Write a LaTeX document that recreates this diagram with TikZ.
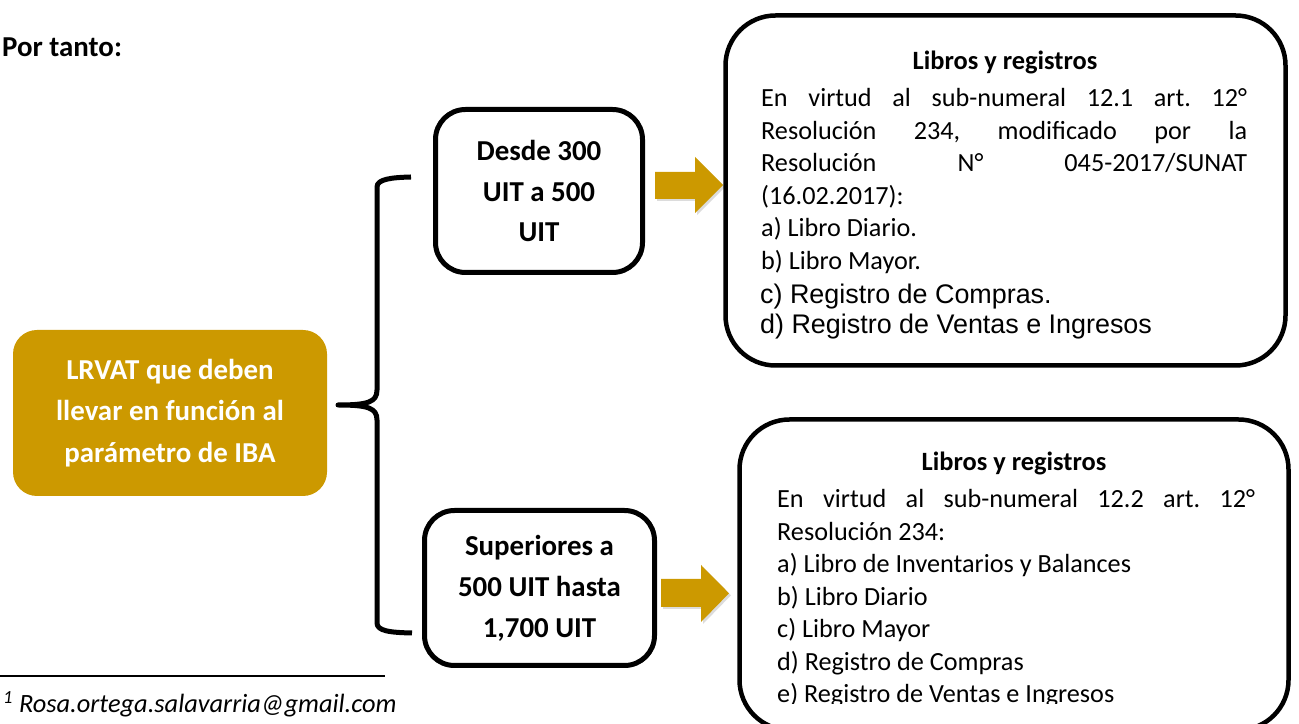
\documentclass[tikz,border=0pt]{standalone}
\usepackage{fontspec}
\setmainfont{Carlito}
\newfontfamily\arialfont{Liberation Sans}
\definecolor{ibagold}{RGB}{204,153,0}
\frenchspacing
\begin{document}
\begin{tikzpicture}[line join=round,
  rangebox/.style={draw, line width=5bp, rounded corners=30bp, align=center, inner sep=0pt,
    font=\bfseries\fontsize{29}{41}\selectfont},
  rulebox/.style={draw, line width=4.5bp, rounded corners=50bp, inner sep=0pt},
  boxtitle/.style={anchor=base, inner sep=0pt, font=\bfseries\fontsize{26.5}{31}\selectfont},
  bodyline/.style={anchor=base west, inner sep=0pt, font=\fontsize{26.3}{31}\selectfont},
  arialline/.style={bodyline, font=\arialfont\fontsize{27}{31}\selectfont},
  blockarrow/.style={fill=ibagold},
  arrowshadow/.style={fill=black!30, opacity=0.45},
]
  \useasboundingbox (0bp,0bp) rectangle (1299bp,724bp);
%%
  % Node: portanto
  \node[anchor=base west, inner sep=0pt, font=\bfseries\fontsize{29}{35}\selectfont] (portanto) at (2bp,667.3bp) {Por tanto:};
  % Node: lrvat
  \node[fill=ibagold, rounded corners=24bp, minimum width=314bp, minimum height=166bp, inner sep=0pt,
    align=center, text=white, font=\bfseries\fontsize{29}{41.5}\selectfont] (lrvat) at (170bp,311bp)
    {LRVAT que deben\\llevar en función al\\parámetro de IBA};
  % Node: desde
  \node[rangebox, minimum width=207bp, minimum height=163bp] (desde) at (539bp,533bp) {Desde 300\\UIT a 500\\UIT};
  % Node: superiores
  \node[rangebox, minimum width=230bp, minimum height=155bp] (superiores) at (539.5bp,136bp) {Superiores a\\500 UIT hasta\\1,700 UIT};
  % Edge: lrvat -> desde, superiores (brace)
  \coordinate (bracetop) at (411bp,547bp);
  \coordinate (bracetip) at (338bp,319bp);
  \coordinate (bracebot) at (412bp,91bp);
  \draw [line width=5bp] (bracetop) .. controls (392bp,546.5bp) and (377bp,545bp) .. (377bp,537bp)
    -- (377bp,334bp) .. controls (377bp,322bp) and (368bp,319bp) .. (bracetip)
    .. controls (368bp,319bp) and (377bp,316bp) .. (377bp,304bp)
    -- (377bp,101bp) .. controls (377bp,93bp) and (390bp,91.5bp) .. (bracebot);
  % Edge: desde -> libros1
\begin{scope}
  \fill [arrowshadow] (657bp,550bp) -- (697bp,550bp) -- (697bp,565bp) -- (725bp,537bp) -- (697bp,509bp) -- (697bp,523bp) -- (657bp,523bp) -- cycle;
  \fill [blockarrow] (655bp,552bp) -- (695bp,552bp) -- (695bp,567bp) -- (723bp,539bp) -- (695bp,511bp) -- (695bp,525bp) -- (655bp,525bp) -- cycle;
\end{scope}
  % Edge: superiores -> libros2
\begin{scope}
  \fill [arrowshadow] (663bp,143bp) -- (703bp,143bp) -- (703bp,157bp) -- (731bp,128.7bp) -- (703bp,100bp) -- (703bp,115bp) -- (663bp,115bp) -- cycle;
  \fill [blockarrow] (661bp,145bp) -- (701bp,145bp) -- (701bp,159bp) -- (729bp,130.7bp) -- (701bp,102bp) -- (701bp,117bp) -- (661bp,117bp) -- cycle;
\end{scope}
  % Node: libros1
\begin{scope}
  \node[rulebox, minimum width=560bp, minimum height=350bp] (libros1) at (1005.5bp,533.5bp) {};
  \node[boxtitle] (titulo1) at (1005bp,654bp) {Libros y registros};
  \node[bodyline] (lineA1) at (761bp,617bp) {\makebox[486bp][s]{En virtud al sub-numeral 12.1 art. 12°}};
  \node[bodyline] (lineA2) at (761bp,584.5bp) {\makebox[486bp][s]{Resolución 234, modificado por la}};
  \node[bodyline] (lineA3) at (761bp,552bp) {\makebox[486bp][s]{Resolución N° 045-2017/SUNAT}};
  \node[bodyline] (lineA4) at (761bp,519.5bp) {(16.02.2017):};
  \node[bodyline] (lineA5) at (761bp,487bp) {a) Libro Diario.};
  \node[bodyline] (lineA6) at (761bp,454bp) {b) Libro Mayor.};
  \node[arialline] (lineA7) at (760bp,420bp) {c) Registro de Compras.};
  \node[arialline] (lineA8) at (760bp,390.7bp) {d) Registro de Ventas e Ingresos};
\end{scope}
  % Node: libros2
\begin{scope}
  \node[rulebox, minimum width=549bp, minimum height=310.5bp] (libros2) at (1014bp,149.25bp) {};
  \node[boxtitle] (titulo2) at (1014bp,253bp) {Libros y registros};
  \node[bodyline] (lineB1) at (777bp,216bp) {\makebox[478bp][s]{En virtud al sub-numeral 12.2 art. 12°}};
  \node[bodyline] (lineB2) at (777bp,183.5bp) {Resolución 234:};
  \node[bodyline] (lineB3) at (777bp,151bp) {a) Libro de Inventarios y Balances};
  \node[bodyline] (lineB4) at (777bp,118.5bp) {b) Libro Diario};
  \node[bodyline] (lineB5) at (777bp,86bp) {c) Libro Mayor};
  \node[bodyline] (lineB6) at (777bp,53.5bp) {d) Registro de Compras};
  \clip (745bp,20.7bp) rectangle (1280bp,45bp);
  \node[bodyline] (lineB7) at (777bp,22bp) {e) Registro de Ventas e Ingresos};
\end{scope}
  % Node: footnote
  \draw [line width=1.8bp] (0bp,48bp) -- (385bp,48bp);
  \node[anchor=base west, inner sep=0pt, font=\itshape\fontsize{26.5}{30}\selectfont] (mail) at (3bp,12bp)
    {\textsuperscript{1} Rosa.ortega.salavarria@gmail.com};
%
\end{tikzpicture}
\end{document}
